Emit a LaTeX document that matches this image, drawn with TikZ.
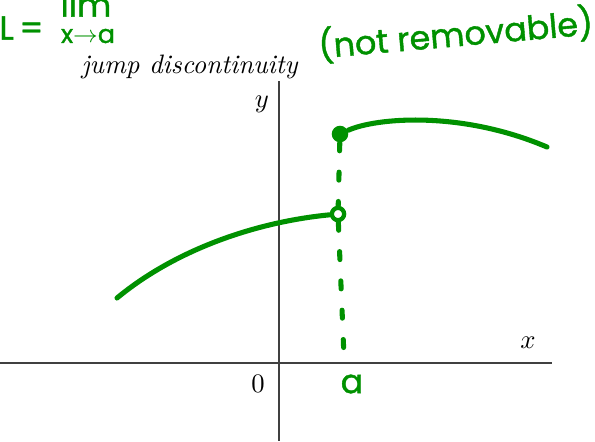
\documentclass[tikz,border=0pt]{standalone}
\usepackage{fontspec}
\newfontfamily\handfont{Poppins}[FakeBold=1.2]
\definecolor{penGreen}{RGB}{0,145,0}
\usetikzlibrary{positioning}
\tikzset{
  axis/.style={draw=black!75, line width=0.45pt},
  pen/.style={draw=penGreen, line width=1.9pt, line cap=round},
  fdot/.style={circle, fill=penGreen, inner sep=0pt, minimum size=6.2pt},
  odot/.style={circle, draw=penGreen, line width=1.6pt, fill=white, inner sep=0pt, minimum size=4.6pt},
  hand/.style={text=penGreen, inner sep=0pt, font=\handfont\fontsize{12.5}{12.5}\selectfont}
}
\begin{document}
\begin{tikzpicture}[x=0.375pt, y=-0.375pt]
    \useasboundingbox (0,0) rectangle (595,441);
    % Axes
    \draw[axis] (0,363) -- (552,363);
    \draw[axis] (279,81) -- (279,441);
    \node (ylab) at (262,104) {$y$};
    \node (xlab) at (528,343) {$x$};
    \node (zero) at (258,384) {$0$};
    \node[inner sep=0pt] (title) at (190,67) {\textit{jump discontinuity}};
    
    % The two pieces of the graph
    \node[fdot] (top) at (340,134) {};
    \node[odot] (hole) at (338,214) {};
    \coordinate (foot) at (344,357);
    \draw[pen, dash pattern=on 3pt off 8pt] (top) -- (hole) -- (foot);
    \draw[pen] (top) .. controls (375,118) and (460,110) .. (547,147);
    \draw[pen] (117,298) .. controls (175,250) and (255,222) .. (hole);
    
    % Handwritten notes
    \node[hand] (alab) at (352,384) {a};
    \node[hand, rotate=5, anchor=west] (note) at (318,46) {(not removable)};
    \node[hand, anchor=east] (leq) at (44,28) {L\,=};
    \node[hand] (lim) at (86,4) {lim};
    \node[hand, font=\handfont\fontsize{9.5}{9.5}\selectfont] (sub) at (88,36) {x$\to$a};
\end{tikzpicture}
\end{document}
